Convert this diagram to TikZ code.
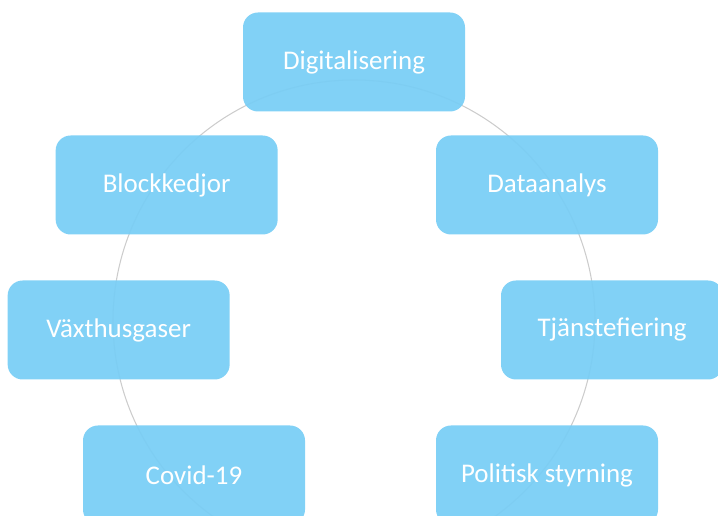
\documentclass[tikz,border=0pt]{standalone}
\usepackage{fontspec}
\setmainfont{Carlito}
\definecolor{boxblue}{HTML}{79CEF5}
\definecolor{ringgray}{HTML}{CCCCCC}
\begin{document}
\begin{tikzpicture}[
	topic/.style={fill=boxblue,fill opacity=0.94,text opacity=1,text=white,rounded corners=0.45cm,minimum width=6.66cm,minimum height=2.97cm,font=\fontsize{23}{27}\selectfont}
	]
	\useasboundingbox (0,0) rectangle (21.54,15.48);
	\clip (0,0) rectangle (21.54,15.48);
	\draw[color=ringgray,line width=0.9pt] (10.62,5.85) circle (7.23);
	\node[topic] (digital) at (10.62,13.62) {Digitalisering};
	\node[topic] (block) at (5.0,9.93) {Blockkedjor};
	\node[topic] (data) at (16.41,9.93) {Dataanalys};
	\node[topic] (gas) at (3.56,5.58) {Växthusgaser};
	\node[topic] (tjanst) at (18.36,5.58) {Tjänstefiering};
	\node[topic] (covid) at (5.82,1.23) {Covid-19};
	\node[topic] (politik) at (16.41,1.23) {Politisk styrning};
\end{tikzpicture}
\end{document}
